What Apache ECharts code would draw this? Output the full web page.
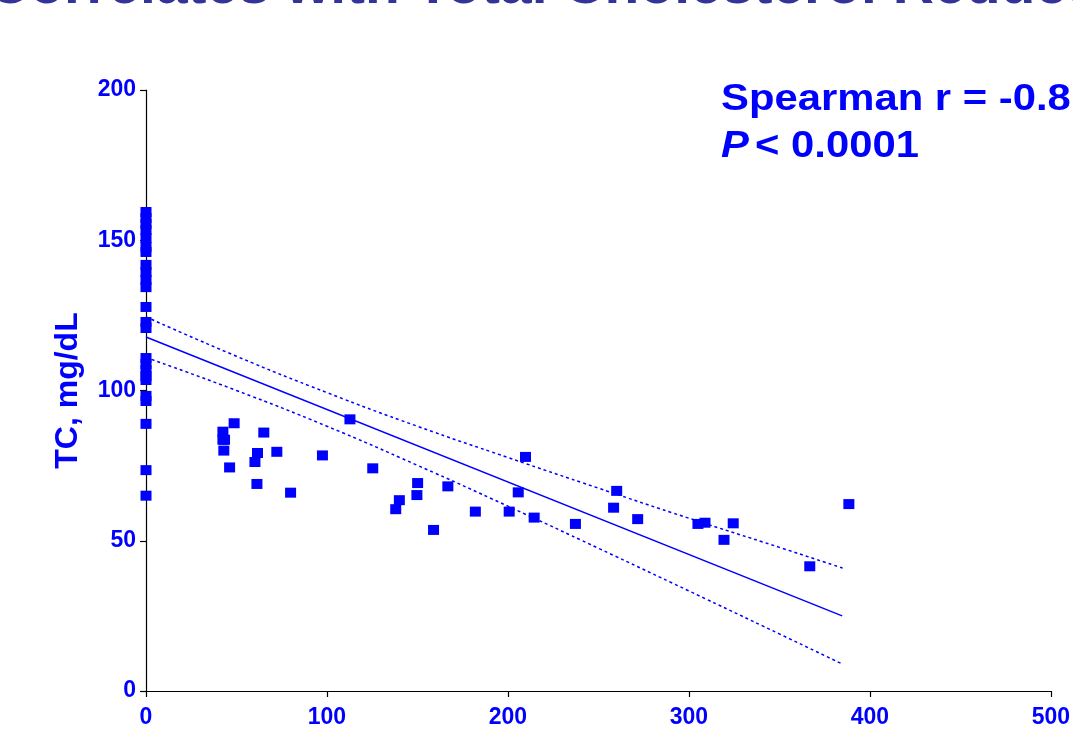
<!DOCTYPE html>
<html>
<head>
<meta charset="utf-8">
<script src="https://cdn.jsdelivr.net/npm/echarts@6/dist/echarts.min.js"></script>
<style>
html,body{margin:0;padding:0;background:#fff;}
#chart{width:1073px;height:738px;}
</style>
</head>
<body>
<div id="chart"></div>
<script>
// Scatter points: [dose (x), TC mg/dL (y)]
const pointsX = [0,0,0,0,0,0,0, 0,0,0,0, 0, 0,0, 0,0,0,0,0, 0,0, 0, 0, 0,
  48.7,42.5,43.4,42.5,43.0,46.2,65.1,61.6,60.2,72.3,61.3,79.9,97.5,112.7,125.3,150.1,149.7,140.0,138.0,166.8,158.9,182.0,
  209.7,205.7,200.7,214.5,237.3,260.1,258.4,271.7,305.0,308.9,324.5,319.4,366.8,388.4];
const pointsY = [159.4,157.4,155.4,153.4,150.7,147.8,146.1, 141.8,139.4,136.8,134.4, 127.8, 122.8,120.8, 110.8,108.8,106.8,104.8,103.5, 98.2,96.5, 88.9, 73.5, 65.0,
  89.1,86.3,83.6,83.6,80.0,74.4,86.0,79.2,76.2,79.6,68.9,66.0,78.4,90.4,74.1,69.2,65.2,63.5,60.5,68.1,53.6,59.7,
  77.9,66.1,59.7,57.7,55.6,66.6,61.0,57.2,55.6,56.0,55.8,50.3,41.5,62.2];

// Regression line and 95% confidence band
const fitX = [0, 384.7];
const fitY = [117.8, 25.0];
const bandX = [0, 50, 100, 150, 200, 250, 300, 350, 385];
const bandUpper = [124.5, 111.4, 99.3, 88.1, 77.7, 67.5, 57.5, 47.8, 40.9];
const bandLower = [111.0, 100.0, 88.1, 75.1, 61.5, 47.5, 33.3, 19.0, 8.9];

const xTicks = [0, 100, 200, 300, 400, 500];
const yTicks = [0, 50, 100, 150, 200];

const titleText = 'Correlates with Total Cholesterol Reduction';
const statLine1 = 'Spearman r = -0.8';
const statP = 'P';
const statLine2 = '< 0.0001';
const yAxisTitle = 'TC, mg/dL';

const BLUE = '#0000ff';
const FONT = '"Liberation Sans", Arial, sans-serif';

const zip = (xs, ys) => xs.map((x, i) => [x, ys[i]]);

const chart = echarts.init(document.getElementById('chart'), null, {renderer: 'canvas'});
chart.setOption({
  animation: false,
  backgroundColor: '#ffffff',
  grid: {left: 146, right: 21, top: 90, bottom: 47, containLabel: false},
  xAxis: {
    type: 'value', min: xTicks[0], max: xTicks[xTicks.length - 1], interval: 100,
    axisLine: {show: true, onZero: false, lineStyle: {color: '#000', width: 1.2}},
    axisTick: {show: true, inside: false, length: 6, lineStyle: {color: '#000', width: 1.2}},
    axisLabel: {color: BLUE, fontFamily: FONT, fontWeight: 'bold', fontSize: 23, margin: 15},
    splitLine: {show: false}
  },
  yAxis: {
    type: 'value', min: yTicks[0], max: yTicks[yTicks.length - 1], interval: 50,
    name: yAxisTitle, nameLocation: 'middle', nameRotate: 90, nameGap: 62,
    nameTextStyle: {color: BLUE, fontFamily: FONT, fontWeight: 'bold', fontSize: 32},
    axisLine: {show: true, onZero: false, lineStyle: {color: '#000', width: 1.2}},
    axisTick: {show: true, inside: false, length: 6, lineStyle: {color: '#000', width: 1.2}},
    axisLabel: {color: BLUE, fontFamily: FONT, fontWeight: 'bold', fontSize: 23, margin: 10},
    splitLine: {show: false}
  },
  graphic: [
    {type: 'text', x: -12, y: -13, style: {text: titleText, font: 'bold 57px ' + FONT, fill: '#333399', verticalAlign: 'middle', align: 'left'}},
    {type: 'text', x: 721, y: 100, scaleX: 1.13, style: {text: statLine1, font: 'bold 37px ' + FONT, fill: BLUE, verticalAlign: 'middle', align: 'left'}},
    {type: 'text', x: 721, y: 147, scaleX: 1.13, style: {text: statP, font: 'italic bold 37px ' + FONT, fill: BLUE, verticalAlign: 'middle', align: 'left'}},
    {type: 'text', x: 755, y: 147, scaleX: 1.13, style: {text: statLine2, font: 'bold 37px ' + FONT, fill: BLUE, verticalAlign: 'middle', align: 'left'}}
  ],
  series: [
    {type: 'line', data: zip(bandX, bandUpper), smooth: true, symbol: 'none', z: 2,
     lineStyle: {color: BLUE, width: 1.5, type: [3, 3]}},
    {type: 'line', data: zip(bandX, bandLower), smooth: true, symbol: 'none', z: 2,
     lineStyle: {color: BLUE, width: 1.5, type: [3, 3]}},
    {type: 'line', data: zip(fitX, fitY), symbol: 'none', z: 2,
     lineStyle: {color: BLUE, width: 1.5}},
    {type: 'scatter', data: zip(pointsX, pointsY), symbol: 'rect', symbolSize: [11, 10], z: 3,
     itemStyle: {color: BLUE, opacity: 1}}
  ]
});
</script>
</body>
</html>
